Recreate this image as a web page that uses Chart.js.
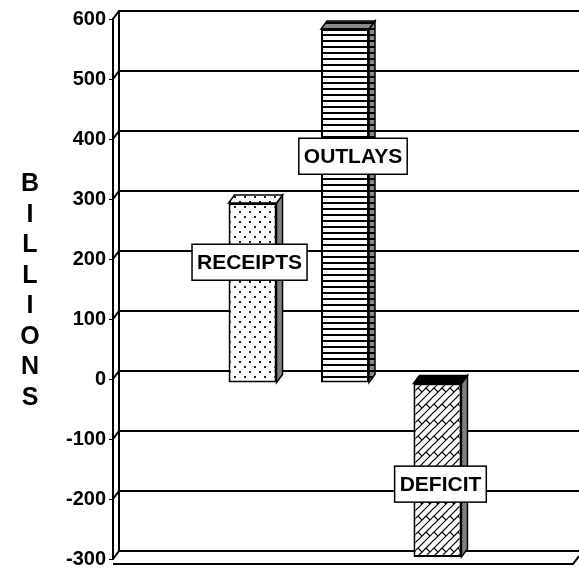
<!DOCTYPE html>
<html>
<head>
<meta charset="utf-8">
<script src="https://cdn.jsdelivr.net/npm/chart.js@4.4.1/dist/chart.umd.min.js"></script>
<style>
  html, body { margin: 0; padding: 0; background: #fff; }
  #wrap { width: 579px; height: 574px; position: relative; }
</style>
</head>
<body>
<div id="wrap"><canvas id="budgetChart"></canvas></div>
<script>
// series names and values (billions)
const seriesNames = ['RECEIPTS', 'OUTLAYS', 'DEFICIT'];
const seriesValues = [300, 590, -290];
const axisTitle = 'BILLIONS';
const yMin = -300, yMax = 600, yStep = 100;

const FONT = '"Liberation Sans", Arial, sans-serif';
const DX = 6, DY = -8;   // 3D depth offset

function makePattern(w, h, draw) {
    const c = document.createElement('canvas');
    c.width = w; c.height = h;
    const g = c.getContext('2d');
    draw(g);
    return c;
}

// dotted white (receipts)
const dotTile = makePattern(10, 10, g => {
    g.fillStyle = '#fff'; g.fillRect(0, 0, 10, 10);
    g.fillStyle = '#222';
    g.fillRect(2, 2, 2, 2);
    g.fillRect(7, 7, 2, 2);
});
// horizontal stripes (outlays)
const stripeTile = makePattern(6, 6, g => {
    g.fillStyle = '#fff'; g.fillRect(0, 0, 6, 6);
    g.fillStyle = '#000'; g.fillRect(0, 0, 6, 2);
});
// diagonal brick (deficit)
const brickTile = makePattern(16, 16, g => {
    g.fillStyle = '#fff'; g.fillRect(0, 0, 16, 16);
    g.strokeStyle = '#000'; g.lineWidth = 1.2;
    const segs = [[0, 16, 16, 0], [0, 8, 8, 0], [8, 16, 16, 8], [0, 0, 4, 4], [8, 0, 12, 4]];
    for (const [x1, y1, x2, y2] of segs) {
        for (const ox of [-16, 0, 16]) for (const oy of [-16, 0, 16]) {
            g.beginPath(); g.moveTo(x1 + ox, y1 + oy); g.lineTo(x2 + ox, y2 + oy); g.stroke();
        }
    }
});
const greyStripeTile = makePattern(6, 6, g => {
    g.fillStyle = '#888'; g.fillRect(0, 0, 6, 6);
    g.fillStyle = '#000'; g.fillRect(0, 0, 6, 2);
});

const ctx0 = document.getElementById('budgetChart').getContext('2d');
const frontFills = [dotTile, stripeTile, brickTile].map(t => ctx0.createPattern(t, 'repeat'));
const sideFills = ['#808080', ctx0.createPattern(greyStripeTile, 'repeat'), '#808080'];
const topFills = [frontFills[0], ctx0.createPattern(greyStripeTile, 'repeat'), '#000'];

// where each boxed label sits: fraction of bar height, x shift
const labelFrac = [0.67, 0.64, 0.58];
const labelShift = [-3, 8, 3];
const barShift = { x: 2, y: 4 };

const wallPlugin = {
    id: 'wall',
    beforeDatasetsDraw(chart) {
        const { ctx, chartArea: a, scales: { y } } = chart;
        ctx.save();
        ctx.strokeStyle = '#000';
        ctx.lineWidth = 2;
        // back wall left edge
        ctx.beginPath();
        ctx.moveTo(a.left + DX, y.getPixelForValue(yMax) + DY);
        ctx.lineTo(a.left + DX, y.getPixelForValue(yMin) + DY);
        ctx.stroke();
        y.ticks.forEach(t => {
            const py = y.getPixelForValue(t.value);
            ctx.beginPath();
            ctx.moveTo(a.left, py);
            ctx.lineTo(a.left + DX, py + DY);
            ctx.lineTo(chart.width, py + DY);
            ctx.stroke();
        });
        // floor front edge
        const fy = y.getPixelForValue(yMin) + 5;
        ctx.beginPath();
        ctx.moveTo(a.left, fy);
        ctx.lineTo(a.right, fy);
        ctx.lineTo(a.right + DX, fy + DY);
        ctx.stroke();
        ctx.restore();
        ctx.save();
        ctx.translate(barShift.x, barShift.y);
    },
    afterDatasetsDraw(chart) {
        const { ctx } = chart;
        // 3D faces
        chart.data.datasets.forEach((ds, i) => {
            const bar = chart.getDatasetMeta(i).data[0];
            const w = bar.width;
            const l = bar.x - w / 2, r = bar.x + w / 2;
            const top = Math.min(bar.y, bar.base), bot = Math.max(bar.y, bar.base);
            ctx.lineWidth = 1.5;
            ctx.strokeStyle = '#000';
            // side
            ctx.beginPath();
            ctx.moveTo(r, top); ctx.lineTo(r + DX, top + DY);
            ctx.lineTo(r + DX, bot + DY); ctx.lineTo(r, bot); ctx.closePath();
            ctx.fillStyle = sideFills[i]; ctx.fill(); ctx.stroke();
            // top
            ctx.beginPath();
            ctx.moveTo(l, top); ctx.lineTo(l + DX, top + DY);
            ctx.lineTo(r + DX, top + DY); ctx.lineTo(r, top); ctx.closePath();
            ctx.fillStyle = topFills[i]; ctx.fill(); ctx.stroke();
        });
        ctx.restore();
        // boxed labels
        ctx.save();
        ctx.font = 'bold 21px ' + FONT;
        ctx.textAlign = 'center';
        ctx.textBaseline = 'middle';
        chart.data.datasets.forEach((ds, i) => {
            const bar = chart.getDatasetMeta(i).data[0];
            const cx = bar.x + barShift.x + labelShift[i];
            const cy = bar.base + (bar.y - bar.base) * labelFrac[i] + barShift.y;
            const tw = ctx.measureText(ds.label).width + 10;
            const th = 36;
            ctx.fillStyle = '#fff';
            ctx.fillRect(cx - tw / 2, cy - th / 2, tw, th);
            ctx.strokeStyle = '#000'; ctx.lineWidth = 1.5;
            ctx.strokeRect(cx - tw / 2, cy - th / 2, tw, th);
            ctx.fillStyle = '#000';
            ctx.fillText(ds.label, cx, cy + 1);
        });
        // stacked axis title
        const a = chart.chartArea;
        const step = 30.5;
        const midY = (a.top + a.bottom) / 2;
        ctx.font = 'bold 25px ' + FONT;
        axisTitle.split('').forEach((ch, k) => {
            ctx.fillText(ch, 30, midY + 2 + (k - (axisTitle.length - 1) / 2) * step);
        });
        ctx.restore();
    }
};

new Chart(ctx0, {
    type: 'bar',
    data: {
        labels: [''],
        datasets: seriesNames.map((name, i) => ({
            label: name,
            data: [seriesValues[i]],
            backgroundColor: frontFills[i],
            borderColor: '#000',
            borderWidth: 2,
            borderSkipped: false
        }))
    },
    options: {
        responsive: true,
        maintainAspectRatio: false,
        animation: false,
        categoryPercentage: 0.603,
        barPercentage: 0.519,
        layout: { padding: { top: 19, bottom: 15, left: 0, right: 6 } },
        plugins: { legend: { display: false }, tooltip: { enabled: false } },
        scales: {
            x: { display: false },
            y: {
                min: yMin, max: yMax,
                afterFit(scale) { scale.width = 113; },
                ticks: { stepSize: yStep, color: '#000', padding: 3, font: { family: FONT, size: 20, weight: 'bold' } },
                grid: { drawOnChartArea: false, tickLength: 4, color: '#000', lineWidth: 1 },
                border: { display: true, color: '#000', width: 2 }
            }
        }
    },
    plugins: [wallPlugin]
});
</script>
</body>
</html>
